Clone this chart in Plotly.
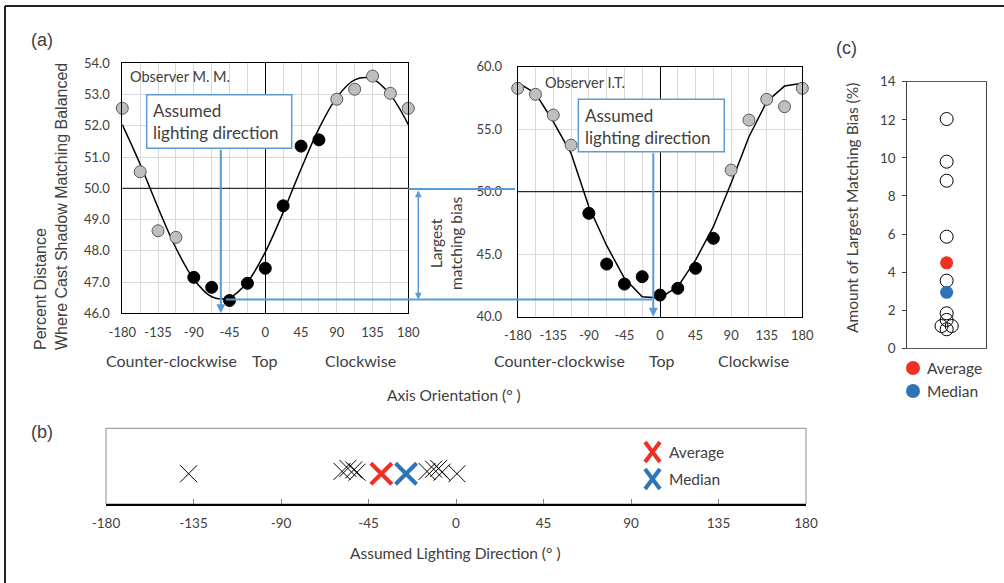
import plotly.graph_objects as go

W, H = 1004, 583


def px(x):
    return x / W


def py(y):
    return 1 - y / H


# ---------------- data ----------------
angles = [-180, -157.5, -135, -112.5, -90, -67.5, -45, -22.5, 0,
          22.5, 45, 67.5, 90, 112.5, 135, 157.5, 180]

mm_vals = [52.56, 50.53, 48.64, 48.43, 47.15, 46.83, 46.41, 46.96, 47.44,
           49.44, 51.35, 51.55, 52.85, 53.17, 53.59, 53.04, 52.56]
mm_fit = [52.04, 50.77, 49.38, 48.09, 47.09, 46.53, 46.50, 47.00, 47.96,
          49.23, 50.62, 51.91, 52.91, 53.47, 53.50, 52.99, 52.04]

it_vals = [58.27, 57.79, 56.13, 53.73, 48.27, 44.21, 42.61, 43.20, 41.73,
           42.27, 43.87, 46.27, 51.73, 55.73, 57.39, 56.80, 58.27]
it_fit = [58.72, 57.87, 55.60, 53.07, 48.80, 45.70, 43.07, 41.60, 41.50,
          42.40, 44.53, 47.20, 50.70, 54.40, 57.20, 58.45, 58.67]

mm_assumed = -56.0
it_assumed = -8.5

tick_angles = [-180, -135, -90, -45, 0, 45, 90, 135, 180]
tick_labels = ["-180", "-135", "-90", "-45", "0", "45", "90", "135", "180"]

# panel (b): assumed lighting directions of the ten observers
dir_x = [-137.5, -58.6, -55.6, -52.6, -50.9, -14.9, -11.5, -8.9, -7.2, 0.5]
dir_y = [0.40, 0.43, 0.47, 0.45, 0.42, 0.43, 0.46, 0.47, 0.42, 0.40]
dir_avg = -38.4
dir_med = -25.7

# panel (c): amount of largest matching bias (%)
bias_vals = [12.04, 9.8, 8.8, 5.86, 3.55, 1.84, 1.49, 1.17, 1.17, 1.0]
bias_x = [0, 0, 0, 0, 0, 0, 0, -0.13, 0.13, 0]
bias_avg = 4.49
bias_med = 2.94

# ---------------- style ----------------
CAL = "Lato"
ARI = "Liberation Sans"
TXT = "#404040"
BLUE = "#5b9bd5"
RED = "#ee3124"
MBLUE = "#2e75b6"
GRID = "#d9d9d9"

fig = go.Figure()


def split(vals):
    bx, by, gx, gy = [], [], [], []
    for a, v in zip(angles, vals):
        if -90 <= a <= 67.5:
            bx.append(a); by.append(v)
        else:
            gx.append(a); gy.append(v)
    return bx, by, gx, gy


# panel a-1
fig.add_trace(go.Scatter(x=angles, y=mm_fit, mode="lines", line=dict(color="black", width=1.5, shape="spline"),
                         xaxis="x", yaxis="y", hoverinfo="skip"))
bx, by, gx, gy = split(mm_vals)
fig.add_trace(go.Scatter(x=gx, y=gy, mode="markers", cliponaxis=False,
                         marker=dict(size=12, color="#bfbfbf", line=dict(color="#595959", width=1)),
                         xaxis="x", yaxis="y"))
fig.add_trace(go.Scatter(x=bx, y=by, mode="markers", cliponaxis=False,
                         marker=dict(size=12, color="black", line=dict(color="black", width=1)),
                         xaxis="x", yaxis="y"))

# panel a-2
fig.add_trace(go.Scatter(x=angles, y=it_fit, mode="lines", line=dict(color="black", width=1.5),
                         xaxis="x2", yaxis="y2", hoverinfo="skip"))
bx, by, gx, gy = split(it_vals)
fig.add_trace(go.Scatter(x=gx, y=gy, mode="markers", cliponaxis=False,
                         marker=dict(size=12, color="#bfbfbf", line=dict(color="#595959", width=1)),
                         xaxis="x2", yaxis="y2"))
fig.add_trace(go.Scatter(x=bx, y=by, mode="markers", cliponaxis=False,
                         marker=dict(size=12, color="black", line=dict(color="black", width=1)),
                         xaxis="x2", yaxis="y2"))

# panel c
fig.add_trace(go.Scatter(x=bias_x, y=bias_vals, mode="markers", cliponaxis=False,
                         marker=dict(size=13, color="rgba(255,255,255,0)", line=dict(color="black", width=1)),
                         xaxis="x3", yaxis="y3"))
fig.add_trace(go.Scatter(x=[0], y=[bias_avg], mode="markers",
                         marker=dict(size=13, color=RED, line=dict(width=0)), xaxis="x3", yaxis="y3"))
fig.add_trace(go.Scatter(x=[0], y=[bias_med], mode="markers",
                         marker=dict(size=13, color=MBLUE, line=dict(width=0)), xaxis="x3", yaxis="y3"))

# panel b
fig.add_trace(go.Scatter(x=dir_x, y=dir_y, mode="markers", cliponaxis=False,
                         marker=dict(symbol="x-thin", size=17, line=dict(color="black", width=1)),
                         xaxis="x4", yaxis="y4"))
fig.add_trace(go.Scatter(x=[dir_avg], y=[0.40], mode="markers",
                         marker=dict(symbol="x-thin", size=21, line=dict(color=RED, width=4)),
                         xaxis="x4", yaxis="y4"))
fig.add_trace(go.Scatter(x=[dir_med], y=[0.40], mode="markers",
                         marker=dict(symbol="x-thin", size=21, line=dict(color=MBLUE, width=4)),
                         xaxis="x4", yaxis="y4"))

tickfont = dict(family=CAL, size=13, color=TXT)

ang_axis = dict(range=[-180, 180], tickmode="array", tickvals=tick_angles, ticktext=tick_labels,
                showgrid=True, gridcolor=GRID, gridwidth=1,
                minor=dict(tickmode="linear", tick0=-180, dtick=22.5, showgrid=True, gridcolor=GRID, gridwidth=1),
                zeroline=True, zerolinecolor="black", zerolinewidth=1,
                showline=True, linecolor="black", linewidth=1, mirror=True, automargin=False,
                ticks="", tickfont=tickfont, ticklabelstandoff=7, fixedrange=True)

fig.update_layout(
    width=W, height=H, margin=dict(l=0, r=0, t=0, b=0, pad=0, autoexpand=False),
    paper_bgcolor="white", plot_bgcolor="white", showlegend=False,
    xaxis=dict(ang_axis, domain=[px(122.3), px(408.3)], anchor="y"),
    yaxis=dict(domain=[py(313.3), py(63.3)], range=[46, 54], dtick=1, tick0=46, tickformat=".1f",
               showgrid=True, gridcolor=GRID, zeroline=False, showline=True, linecolor="black",
               mirror=True, ticks="", tickfont=tickfont, ticklabelstandoff=9, anchor="x", automargin=False),
    xaxis2=dict(ang_axis, domain=[px(517.7), px(802.3)], anchor="y2"),
    yaxis2=dict(domain=[py(316.7), py(66.7)], range=[40, 60], dtick=5, tick0=40, tickformat=".1f",
                showgrid=True, gridcolor=GRID, zeroline=False, showline=True, linecolor="black",
                mirror=True, ticks="", tickfont=tickfont, ticklabelstandoff=12, anchor="x2", automargin=False),
    xaxis3=dict(domain=[px(907.3), px(986)], range=[-1, 1], showticklabels=False, ticks="",
                showgrid=False, zeroline=False, showline=True, linecolor="#595959", mirror=True, anchor="y3",
                automargin=False),
    yaxis3=dict(domain=[py(348.3), py(81.7)], range=[0, 14], dtick=2, tick0=0, showgrid=False,
                zeroline=False, showline=True, linecolor="#404040", mirror=True, ticks="outside",
                ticklen=4, tickcolor="#404040", tickfont=dict(family=CAL, size=13.5, color=TXT), anchor="x3",
                ticklabelstandoff=4, automargin=False),
    xaxis4=dict(domain=[px(106), px(806)], range=[-180, 180], tickmode="array", tickvals=tick_angles,
                ticktext=tick_labels, showgrid=False, zeroline=False, showline=True, linecolor="black",
                linewidth=1.5, ticks="inside", ticklen=5, tickcolor="#808080",
                tickfont=dict(family=CAL, size=13.5, color=TXT), ticklabelstandoff=6, anchor="y4",
                automargin=False),
    yaxis4=dict(domain=[py(504), py(428.3)], range=[0, 1], visible=False, anchor="x4", automargin=False),
)

shapes = []
# outer frame (left & top)
shapes.append(dict(type="line", xref="paper", yref="paper", x0=px(5), x1=px(5), y0=0, y1=py(6),
                   line=dict(color="#222", width=2)))
shapes.append(dict(type="line", xref="paper", yref="paper", x0=px(5), x1=1, y0=py(6), y1=py(6),
                   line=dict(color="#222", width=2)))
# 50 % lines
shapes.append(dict(type="line", xref="x", yref="y", x0=-180, x1=180, y0=50, y1=50,
                   line=dict(color="black", width=1), layer="between"))
shapes.append(dict(type="line", xref="x2", yref="y2", x0=-180, x1=180, y0=50, y1=50,
                   line=dict(color="black", width=1), layer="between"))
# panel b box
shapes.append(dict(type="rect", xref="paper", yref="paper", x0=px(106), x1=px(806), y0=py(504), y1=py(428.3),
                   line=dict(color="#8c8c8c", width=1), layer="below"))
# blue boxes
shapes.append(dict(type="rect", xref="x", yref="y", x0=-149.3, x1=33.2, y0=51.28, y1=52.99,
                   fillcolor="white", line=dict(color=BLUE, width=1.5), layer="above"))
shapes.append(dict(type="rect", xref="x2", yref="y2", x0=-103.3, x1=81.3, y0=53.2, y1=57.39,
                   fillcolor="white", line=dict(color=BLUE, width=1.5), layer="above"))
# blue connector lines
shapes.append(dict(type="line", xref="paper", yref="paper", x0=px(226), x1=px(652), y0=py(299.5), y1=py(299.5),
                   line=dict(color=BLUE, width=2)))
shapes.append(dict(type="line", xref="paper", yref="paper", x0=px(408.3), x1=px(515), y0=py(189), y1=py(189),
                   line=dict(color=BLUE, width=2)))
# legend glyphs panel c
shapes.append(dict(type="circle", xref="paper", yref="paper", x0=px(906), x1=px(920), y0=py(375), y1=py(361),
                   fillcolor=RED, line=dict(width=0)))
shapes.append(dict(type="circle", xref="paper", yref="paper", x0=px(906), x1=px(920), y0=py(398), y1=py(384),
                   fillcolor=MBLUE, line=dict(width=0)))
# legend glyphs panel b (X marks)
for cy, col in ((452, RED), (479, MBLUE)):
    shapes.append(dict(type="line", xref="paper", yref="paper", x0=px(645), x1=px(660), y0=py(cy - 10),
                       y1=py(cy + 10), line=dict(color=col, width=4)))
    shapes.append(dict(type="line", xref="paper", yref="paper", x0=px(645), x1=px(660), y0=py(cy + 10),
                       y1=py(cy - 10), line=dict(color=col, width=4)))
fig.update_layout(shapes=shapes)

ann = []


def text(x, y, t, size=15, family=CAL, xanchor="center", yanchor="middle", color=TXT, angle=0, align="center"):
    ann.append(dict(xref="paper", yref="paper", x=px(x), y=py(y), text=t, showarrow=False,
                    font=dict(family=family, size=size, color=color), xanchor=xanchor, yanchor=yanchor,
                    textangle=angle, align=align))


text(42, 40, "(a)", size=18, family=ARI, xanchor="center")
text(42, 432, "(b)", size=18, family=ARI, xanchor="center")
text(846, 48, "(c)", size=18, family=ARI, xanchor="center")
text(128, 77, "Observer M. M.", size=14.5, xanchor="left")
text(543, 82, "Observer I.T.", size=14.5, xanchor="left")
text(151, 122, "Assumed<br>lighting direction", size=17, xanchor="left", align="left")
text(583, 126, "Assumed<br>lighting direction", size=17, xanchor="left", align="left")
text(171, 360, "Counter-clockwise", size=16)
text(265, 360, "Top", size=16)
text(360, 360, "Clockwise", size=16)
text(559, 360, "Counter-clockwise", size=16)
text(662, 360, "Top", size=16)
text(753, 360, "Clockwise", size=16)
text(454, 395, "Axis Orientation (° )", size=15.5)
text(455, 553, "Assumed Lighting Direction (° )", size=15.5)
text(51, 207, "Percent Distance<br>Where Cast Shadow Matching Balanced", size=16, family=ARI,
     angle=-90, align="left")
text(852, 208, "Amount of Largest Matching Bias (%)", size=15.5, angle=-90)
text(446, 244, "Largest<br>matching bias", size=15.5, angle=-90)
text(925, 368, "Average", size=15.5, xanchor="left")
text(925, 391, "Median", size=15.5, xanchor="left")
text(667, 452, "Average", size=15.5, xanchor="left")
text(667, 479, "Median", size=15.5, xanchor="left")

# blue arrows
ann.append(dict(xref="x", yref="y", x=mm_assumed, y=46.0, axref="x", ayref="y", ax=mm_assumed, ay=51.28,
                showarrow=True, arrowhead=2, arrowsize=0.9, arrowwidth=2, arrowcolor=BLUE, text=""))
ann.append(dict(xref="x2", yref="y2", x=it_assumed, y=40.0, axref="x2", ayref="y2", ax=it_assumed, ay=53.2,
                showarrow=True, arrowhead=2, arrowsize=0.9, arrowwidth=2, arrowcolor=BLUE, text=""))
ann.append(dict(xref="paper", yref="paper", x=px(418.3), y=py(299.5), axref="pixel", ayref="pixel", ax=0,
                ay=-110.5, showarrow=True, arrowhead=2, startarrowhead=2, arrowside="end+start",
                arrowsize=0.9, startarrowsize=0.9, arrowwidth=1.5, arrowcolor=BLUE, text=""))
fig.update_layout(annotations=ann)

fig.write_html("out.html", config={"displayModeBar": False, "staticPlot": True},
               post_script="document.body.style.margin='0';document.body.style.overflow='hidden';")
